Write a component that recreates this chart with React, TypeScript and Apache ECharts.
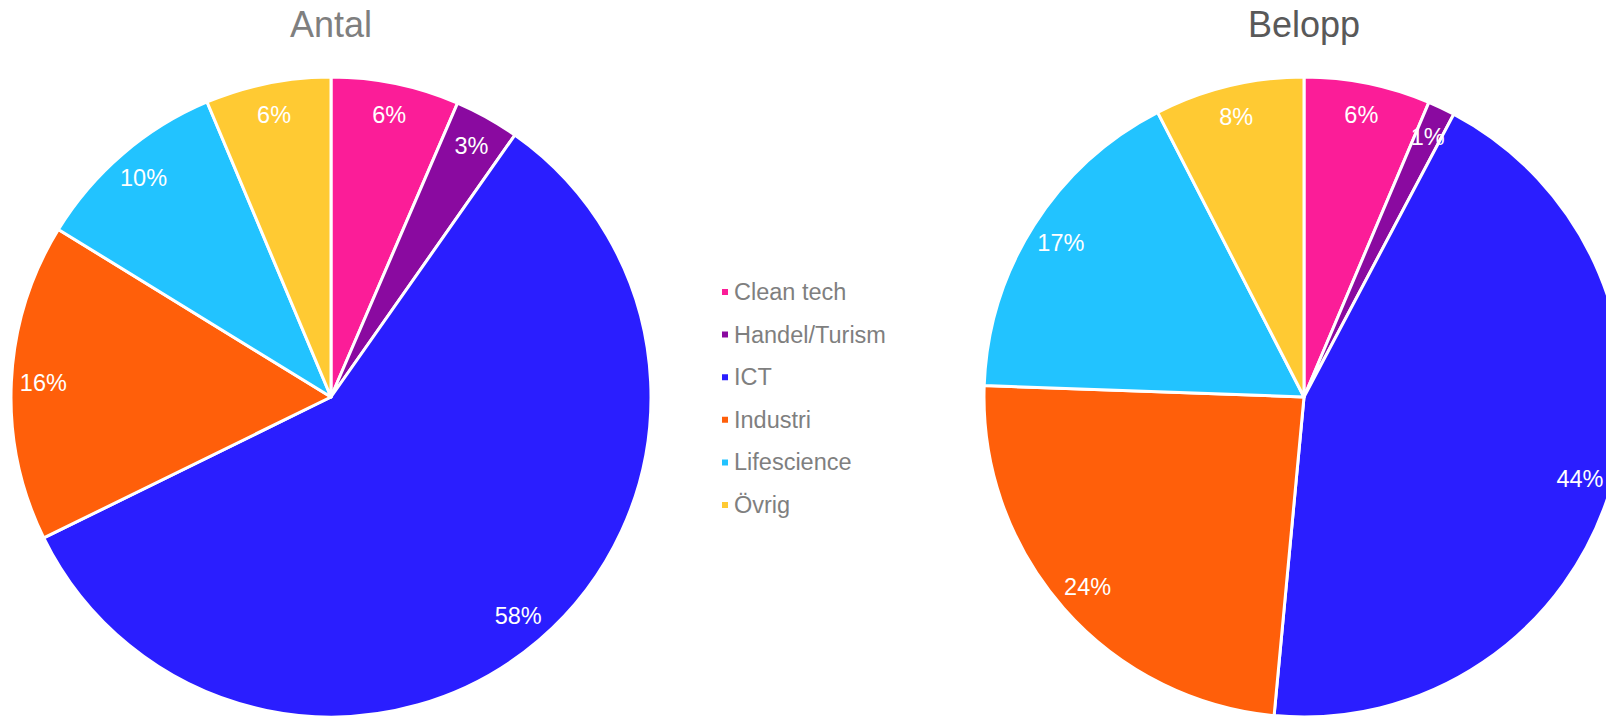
import React, { useEffect, useRef } from "react";
import * as echarts from "echarts";

const categories = ["Clean tech", "Handel/Turism", "ICT", "Industri", "Lifescience", "Övrig"];
const antalValues = [6.47, 3.27, 58.0, 16.03, 9.9, 6.33];
const beloppValues = [6.38, 1.37, 43.74, 24.08, 16.87, 7.56];
const colors = ["#FB1D98", "#8A0AA0", "#2A1EFF", "#FF5F0A", "#22C3FF", "#FFCA33"];
const titles = ["Antal", "Belopp"];

const FONT = "'Liberation Sans', Arial, sans-serif";

export default function App() {
  const ref = useRef<HTMLDivElement>(null);
  useEffect(() => {
    document.body.style.margin = "0";
    if (!ref.current) return;
    const chart = echarts.init(ref.current, null, { renderer: "svg" });
    const mk = (vals: number[]) => categories.map((n, i) => ({ name: n, value: vals[i] }));
    const centers = [[331, 397], [1304, 397]];
    const R = 320;
    const pies: any[] = [];
    [antalValues, beloppValues].forEach((vals, k) => {
      pies.push({
        type: "pie",
        name: titles[k],
        center: centers[k],
        radius: [0, R],
        startAngle: 90,
        clockwise: true,
        avoidLabelOverlap: false,
        data: mk(vals),
        label: { show: false },
        labelLine: { show: false },
        itemStyle: { borderColor: "#ffffff", borderWidth: 3 },
        emphasis: { disabled: true },
      });
      pies.push({
        type: "pie",
        name: titles[k] + "-labels",
        center: centers[k],
        radius: [250, R],
        startAngle: 90,
        clockwise: true,
        avoidLabelOverlap: false,
        silent: true,
        data: mk(vals),
        itemStyle: { color: "rgba(0,0,0,0)", borderWidth: 0 },
        label: {
          show: true,
          position: "inside",
          color: "#ffffff",
          fontSize: 23.5,
          fontFamily: FONT,
          formatter: (p: any) => Math.round(p.percent) + "%",
        },
        labelLine: { show: false },
        emphasis: { disabled: true },
      });
    });
    chart.setOption({
      animation: false,
      color: colors,
      legend: {
        data: categories,
        orient: "vertical",
        left: 720,
        top: 279,
        padding: 0,
        icon: "rect",
        itemWidth: 8,
        itemHeight: 8,
        itemGap: 16.6,
        selectedMode: false,
        textStyle: {
          color: "#7F7F7F",
          fontSize: 23.5,
          fontFamily: FONT,
          lineHeight: 26,
        },
      },
      graphic: [
        {
          type: "text",
          x: 331,
          y: 24,
          style: {
            text: titles[0],
            fill: "#7F7F7F",
            font: `36px ${FONT}`,
            align: "center",
            verticalAlign: "middle",
            textAlign: "center",
            textVerticalAlign: "middle",
          },
        },
        {
          type: "text",
          x: 1304,
          y: 24,
          style: {
            text: titles[1],
            fill: "#595959",
            font: `36px ${FONT}`,
            align: "center",
            verticalAlign: "middle",
            textAlign: "center",
            textVerticalAlign: "middle",
          },
        },
      ],
      series: pies,
    });
    return () => chart.dispose();
  }, []);
  return <div ref={ref} style={{ width: 1606, height: 717, position: "absolute", left: 0, top: 0 }} />;
}
